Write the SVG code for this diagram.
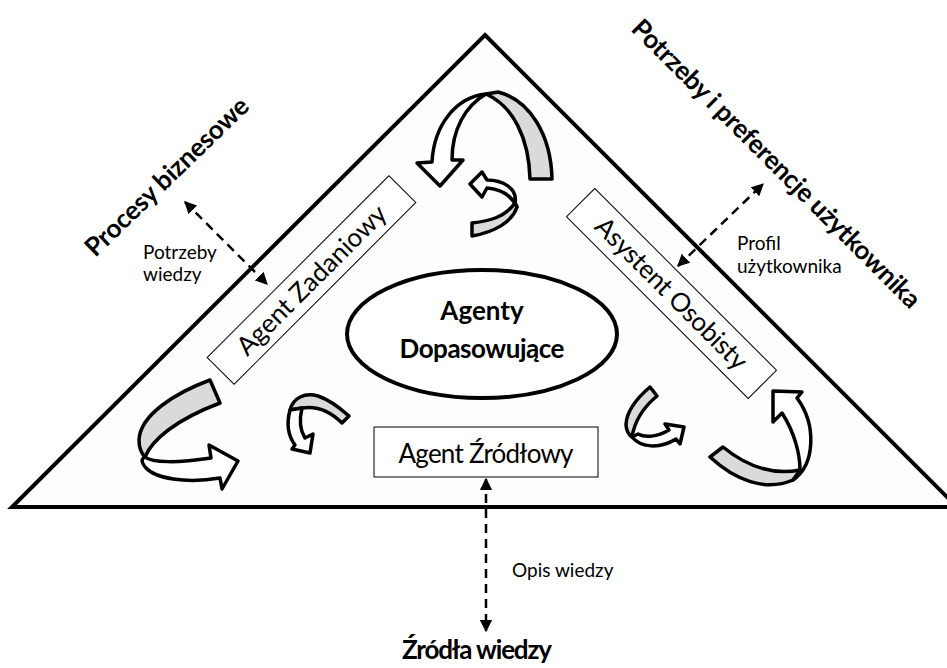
<svg xmlns="http://www.w3.org/2000/svg" width="947" height="668" viewBox="0 0 947 668">
<style>
.tri{fill:#fefefe;stroke:#000;stroke-width:4;stroke-linejoin:miter}
.box{fill:#fff;stroke:#000;stroke-width:1}
.ell{fill:#fff;stroke:#000;stroke-width:4}
.t{font-family:Lato,"Liberation Sans",sans-serif;fill:#000}
.lbl{font-size:26px}
.b{font-weight:bold}
.sm{font-size:19px}
.dash{stroke:#000;stroke-width:2.5;stroke-dasharray:9 6;fill:none}
.w{fill:#fff;stroke:#000;stroke-width:3.5;stroke-linejoin:round}
.g{fill:#dadada;stroke:#000;stroke-width:3.5;stroke-linejoin:round}
</style>
<defs>
<marker id="ah" viewBox="0 0 10 10" refX="9" refY="5" markerWidth="5" markerHeight="5" orient="auto-start-reverse" markerUnits="strokeWidth">
<path d="M0,0 L10,5 L0,10 Z" fill="#000"/>
</marker>
</defs>
<rect width="947" height="668" fill="#fff"/>
<g id="triangle">
<path class="tri" d="M485,35 L957,507 L12,507 Z"/>
</g>
<g id="agent-zadaniowy">
<rect class="box" x="183" y="261" width="257" height="38" transform="rotate(-45 311.5 280)"/>
<text class="t lbl" x="311.5" y="289" text-anchor="middle" textLength="200" transform="rotate(-45 311.5 280)">Agent Zadaniowy</text>
</g>
<g id="asystent-osobisty">
<rect class="box" x="543" y="273.5" width="257" height="40" transform="rotate(45 671.5 293.5)"/>
<text class="t lbl" x="671.5" y="302.5" text-anchor="middle" textLength="203" transform="rotate(45 671.5 293.5)">Asystent Osobisty</text>
</g>
<g id="agent-zrodlowy">
<rect class="box" x="374" y="427" width="224" height="50"/>
<text class="t lbl" x="486" y="463" text-anchor="middle" textLength="175">Agent Źródłowy</text>
</g>
<g id="agenty-dopasowujace">
<ellipse class="ell" cx="482" cy="334" rx="135" ry="64"/>
<text class="t lbl b" x="482" y="320" text-anchor="middle">Agenty</text>
<text class="t lbl b" x="482" y="358" text-anchor="middle" textLength="165">Dopasowujące</text>
</g>
<g id="procesy-biznesowe">
<text class="t lbl b" x="173" y="183" text-anchor="middle" textLength="216" transform="rotate(-44 173 183)">Procesy biznesowe</text>
</g>
<g id="potrzeby-uzytkownika">
<text class="t lbl b" x="770" y="170" text-anchor="middle" textLength="396" transform="rotate(45 770 170)">Potrzeby i preferencje użytkownika</text>
</g>
<g id="zrodla-wiedzy">
<text class="t lbl b" x="477" y="659" text-anchor="middle" textLength="150">Źródła wiedzy</text>
</g>
<g id="connectors">
<line class="dash" x1="185" y1="202" x2="267" y2="284" marker-start="url(#ah)" marker-end="url(#ah)"/>
<line class="dash" x1="678" y1="266" x2="763" y2="184" marker-start="url(#ah)" marker-end="url(#ah)"/>
<line class="dash" x1="486" y1="479" x2="486" y2="631" marker-start="url(#ah)" marker-end="url(#ah)"/>
<text class="t sm" x="143" y="259">Potrzeby</text>
<text class="t sm" x="143" y="281">wiedzy</text>
<text class="t sm" x="737" y="250">Profil</text>
<text class="t sm" x="737" y="273">użytkownika</text>
<text class="t sm" x="512" y="577">Opis wiedzy</text>
</g>
<g id="cycle-arrows">
<path class="g" d="M530,179 C529,138 513,106 486,94 L498,92 C530,100 551,135 552,179 Z"/>
<path class="w" d="M486,94 C456,97 434,125 432,162 L417,163 L440,186 L463,160 L452,160 C452,130 465,106 486,94 Z"/>
<path class="g" d="M472,223 C490,221 505,217 515,203 L517,207 C512,222 495,232 472,236 Z"/>
<path class="w" d="M515,203 C518,188 502,180 487,180 L482,172 L470,184 L482,197 L487,188 C500,189 511,195 517,207 Z"/>
<path class="g" d="M210,380 C175,393 140,415 139,440 C139,448 141,453 145,457 C152,440 175,420 220,403 Z"/>
<path class="w" d="M145,457 C152,463 178,463 211,458 L209,445 L238,461 L222,489 L220,478 C185,484 155,478 146,468 C141,462 141,459 145,457 Z"/>
<path class="g" d="M290,410 C293,398 305,392 318,396 C330,400 340,408 349,416 L342,423 C333,414 320,405 302,408 Z"/>
<path class="w" d="M290,410 C286,425 289,437 295,445 L292,449 L310,453 L313,434 L305,438 C300,430 299,420 302,408 Z"/>
<path class="g" d="M650,387 C637,398 627,410 626,424 C626,430 628,434 632,437 C634,425 640,410 657,396 Z"/>
<path class="w" d="M632,437 C641,448 660,449 676,439 L680,444 L684,427 L665,424 L669,430 C657,437 645,438 638,434 Z"/>
<path class="g" d="M710,457 L723,447 C745,465 770,476 800,470 C798,476 796,478 793,480 C765,492 735,480 710,457 Z"/>
<path class="w" d="M793,480 C815,465 817,425 797,398 L802,392 L773,391 L773,422 L782,413 C795,433 800,455 800,470 Z"/>
</g>
</svg>
